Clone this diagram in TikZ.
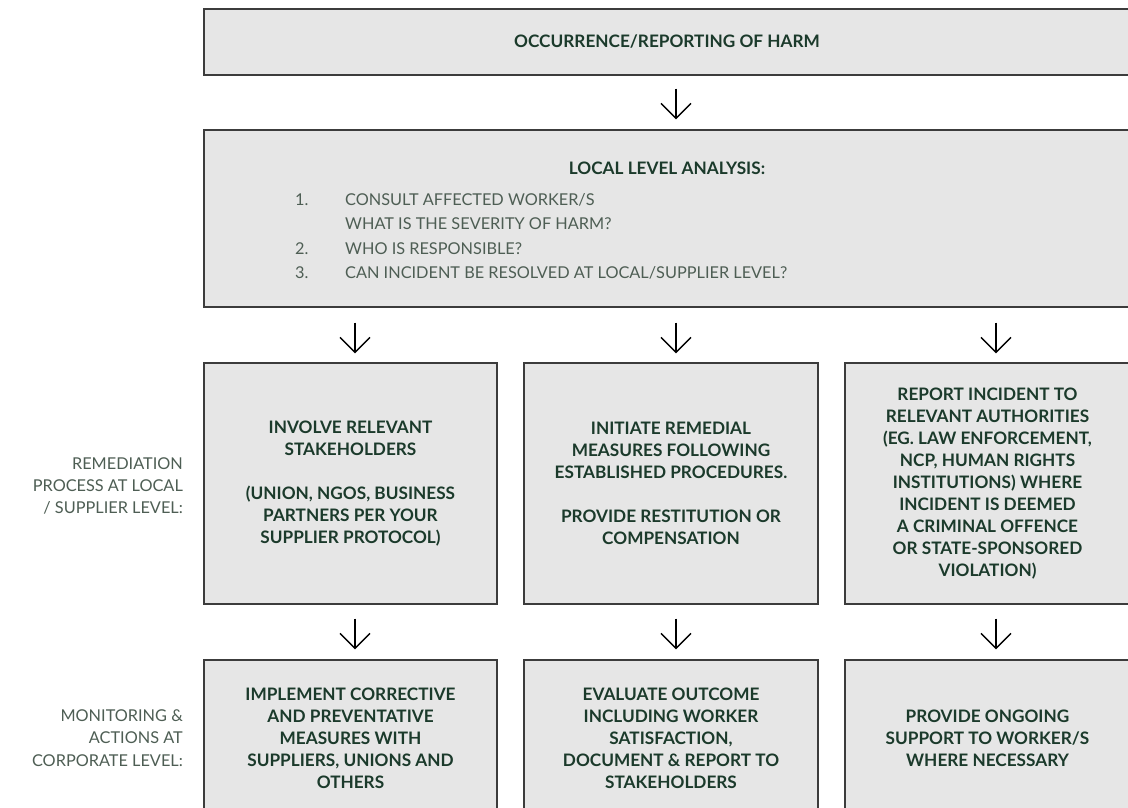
\documentclass[tikz,border=0pt]{standalone}
\usepackage{fontspec}
\setmainfont{Lato}
\usetikzlibrary{arrows.meta}
\definecolor{boxfill}{HTML}{E6E6E6}
\definecolor{boxline}{HTML}{3C3C3C}
\definecolor{darkgreen}{HTML}{1B3A2B}
\definecolor{greytext}{HTML}{4E5E54}

\begin{document}
\begin{tikzpicture}[x=1pt,y=-1pt,
  box/.style={draw=boxline,line width=1.4pt,fill=boxfill,inner sep=0pt,align=center,
    text=darkgreen,font=\bfseries\fontsize{17.2}{22}\selectfont},
  side/.style={anchor=east,align=right,inner sep=0pt,text=greytext,font=\fontsize{16.3}{22.3}\selectfont},
  flow/.style={line width=1.3pt,-{Straight Barb[length=15pt,width=30pt]}}]
\clip (0,0) rectangle (1128,808);
\fill [white] (0,0) rectangle (1128,808);
% top boxes
\node [box,minimum width=926,minimum height=66] (harm) at (667,42) {OCCURRENCE/REPORTING OF HARM};
\node [box,minimum width=926,minimum height=177] (ana) at (667,218.5) {};
\node [text=darkgreen,font=\bfseries\fontsize{17.2}{22}\selectfont] (anahead) at (667,168) {LOCAL LEVEL ANALYSIS:};
\node [anchor=base west,inner sep=0pt,text=greytext,font=\fontsize{16.3}{24.4}\selectfont] (analist) at (295,205.5)
  {\begin{tabular}[t]{@{}p{50pt}@{}l@{}}
  1. & CONSULT AFFECTED WORKER/S\\
     & WHAT IS THE SEVERITY OF HARM?\\
  2. & WHO IS RESPONSIBLE?\\
  3. & CAN INCIDENT BE RESOLVED AT LOCAL/SUPPLIER LEVEL?
  \end{tabular}};
% remediation row
\node [box,minimum width=293,minimum height=241] (inv) at (350.5,483.5)
  {INVOLVE RELEVANT\\STAKEHOLDERS\\[22pt](UNION, NGOS, BUSINESS\\PARTNERS PER YOUR\\SUPPLIER PROTOCOL)};
\node [box,minimum width=294,minimum height=241] (rem) at (671,483.5)
  {INITIATE REMEDIAL\\MEASURES FOLLOWING\\ESTABLISHED PROCEDURES.\\[22pt]PROVIDE RESTITUTION OR\\COMPENSATION};
\node [box,minimum width=285,minimum height=241] (rep) at (987.5,483.5)
  {REPORT INCIDENT TO\\RELEVANT AUTHORITIES\\(EG. LAW ENFORCEMENT,\\NCP, HUMAN RIGHTS\\INSTITUTIONS) WHERE\\INCIDENT IS DEEMED\\A CRIMINAL OFFENCE\\OR STATE-SPONSORED\\VIOLATION)};
% monitoring row
\node [box,minimum width=293,minimum height=156] (imp) at (350.5,738)
  {IMPLEMENT CORRECTIVE\\AND PREVENTATIVE\\MEASURES WITH\\SUPPLIERS, UNIONS AND\\OTHERS};
\node [box,minimum width=294,minimum height=156] (eva) at (671,738)
  {EVALUATE OUTCOME\\INCLUDING WORKER\\SATISFACTION,\\DOCUMENT \& REPORT TO\\STAKEHOLDERS};
\node [box,minimum width=285,minimum height=156] (sup) at (987.5,738)
  {PROVIDE ONGOING\\SUPPORT TO WORKER/S\\WHERE NECESSARY};
% side labels
\node [side] (remlab) at (183,486) {REMEDIATION\\PROCESS AT LOCAL\\/ SUPPLIER LEVEL:};
\node [side] (monlab) at (183,738) {MONITORING \&\\ACTIONS AT\\CORPORATE LEVEL:};
% arrows
\draw [flow,shorten <=13pt,shorten >=10pt] ([xshift=9pt]harm.south) -- ([xshift=9pt]ana.north);
\foreach \b/\dx in {inv/4.5,rem/5,rep/8.5}
  \draw [flow,shorten <=15pt,shorten >=9pt] ([xshift=\dx pt]\b.north |- ana.south) -- ([xshift=\dx pt]\b.north);
\foreach \a/\b/\dx in {inv/imp/4.5,rem/eva/5,rep/sup/8.5}
  \draw [flow,shorten <=14pt,shorten >=10pt] ([xshift=\dx pt]\a.south) -- ([xshift=\dx pt]\b.north);
\end{tikzpicture}
\end{document}
